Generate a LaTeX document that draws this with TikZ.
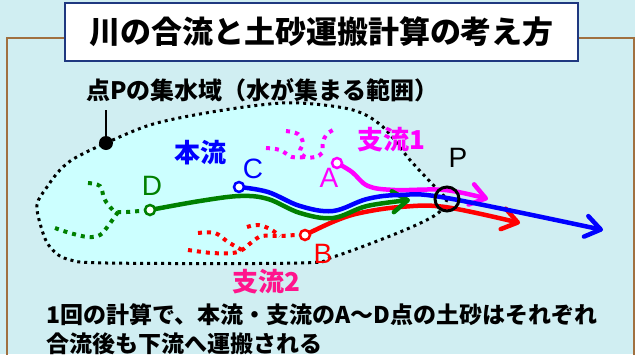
\documentclass[tikz,border=0pt]{standalone}
\usepackage{fontspec}
\setmainfont{Liberation Sans}
\newfontfamily\jp{Noto Sans CJK JP}
\usetikzlibrary{arrows.meta}
\definecolor{bgc}{RGB}{208,238,242}
\definecolor{basin}{RGB}{204,255,255}
\definecolor{framebrown}{RGB}{160,112,64}
\definecolor{titleblue}{RGB}{31,56,128}
\definecolor{deeppink}{RGB}{255,20,140}
\definecolor{riverblue}{RGB}{0,0,255}
\definecolor{rivergreen}{RGB}{0,128,0}
\definecolor{riverred}{RGB}{255,0,0}
\definecolor{rivermag}{RGB}{255,0,255}
\tikzset{
  titlebox/.style={draw=titleblue, line width=2pt, fill=white, minimum width=513pt, minimum height=58pt, inner sep=0pt},
  basinline/.style={draw=black, line width=3pt, dash pattern=on 3pt off 4pt},
  trib/.style={line width=4pt, dash pattern=on 4pt off 5pt},
  flow/.style={line width=4.5pt, line cap=round, -{Straight Barb[length=15pt,width=21pt,round]}},
  startdot/.style={circle, draw, fill=white, line width=2.5pt, minimum size=10pt, inner sep=0pt},
  letter/.style={font=\fontsize{28}{28}\selectfont, inner sep=0pt},
  jplabel/.style={font=\jp\bfseries\fontsize{26}{26}\selectfont, inner sep=0pt},
  note/.style={anchor=base west, inner sep=0pt, font=\jp\bfseries\fontsize{23}{23}\selectfont},
}
\begin{document}
\begin{tikzpicture}[x=1pt, y=-1pt]
\fill[bgc] (0,0) rectangle (635,354);
\useasboundingbox (0,0) rectangle (635,354);
\draw[framebrown, line width=1.3pt] (7,362) -- (7,38) -- (634,38) -- (634,362);
\node[titlebox] (title) at (321.5,32) {\jp\bfseries\fontsize{31}{31}\selectfont 川の合流と土砂運搬計算の考え方};
% catchment
\draw[basinline, fill=basin] plot[smooth, tension=0.55] coordinates {(447,199) (437,214) (400,232) (333,257) (300,263) (107,263) (67,259) (50,247) (42,230) (37,205) (47,187) (60,170) (75,158) (106,143) (150,125) (200,114) (260,105) (300,103) (353,110) (383,127) (410,160) (437,189) (447,199)};
\node[note, font=\jp\bfseries\fontsize{24}{24}\selectfont] (basinlabel) at (86,99) {点Pの集水域（水が集まる範囲）};
\node[circle, fill=black, minimum size=14pt, inner sep=0pt] (pin) at (106,143) {};
\coordinate (pintop) at (106,110);
\draw[line width=2.5pt] (pin.center) -- (pintop);
% start points
\coordinate (pA) at (337,163);
\coordinate (pB) at (305,235);
\coordinate (pC) at (239,187);
\coordinate (pD) at (150,210);
\coordinate (jg) at (118,212);
\coordinate (jr) at (242,250);
\coordinate (jr2) at (280,236);
% dotted tributaries
\draw[trib, rivermag] plot[smooth, tension=0.6] coordinates {(286,131) (298,134) (303,143) (300,151) (305,157) (315,157) (322,153) (323,142) (327,134) (335,129)};
\draw[trib, rivermag] plot[smooth, tension=0.6] coordinates {(266,148) (280,150) (292,157) (305,157)};
\draw[trib, rivergreen] plot[smooth, tension=0.6] coordinates {(88,183) (100,186) (104,198) (110,207) (jg) (140,211) (pD)};
\draw[trib, rivergreen] plot[smooth, tension=0.6] coordinates {(55,228) (70,233) (88,237) (100,235) (108,226) (jg)};
\draw[trib, riverred] plot[smooth, tension=0.6] coordinates {(188,250) (212,253) (232,253) (jr) (252,242) (262,236) (jr2) (296,235) (pB)};
\draw[trib, riverred] plot[smooth, tension=0.6] coordinates {(198,233) (215,233) (228,242) (jr)};
\draw[trib, riverred] plot[smooth, tension=0.6] coordinates {(247,227) (258,225) (270,229) (jr2)};
% flows
\draw[flow, rivermag] plot[smooth, tension=0.6] coordinates {(pA) (352,172) (368,186) (395,190) (445,190) (488,199)};
\draw[flow, riverred] plot[smooth, tension=0.6] coordinates {(pB) (335,221) (360,213) (400,207) (445,207) (520,223)};
\draw[flow, rivergreen] plot[smooth, tension=0.6] coordinates {(pD) (200,201) (240,196) (268,199) (300,213) (333,218) (367,206) (410,200)};
\draw[flow, riverblue] plot[smooth, tension=0.6] coordinates {(pC) (268,192) (300,206) (333,211) (367,199) (400,195) (447,198) (603,230)};
\node[startdot, draw=rivermag] (nA) at (pA) {};
\node[startdot, draw=riverred] (nB) at (pB) {};
\node[startdot, draw=riverblue] (nC) at (pC) {};
\node[startdot, draw=rivergreen] (nD) at (pD) {};
\node[circle, draw=black, line width=3pt, minimum size=24pt, inner sep=0pt] (P) at (447,199) {};
% labels
\node[letter, rivermag] (lA) at (329,178) {A};
\node[letter, riverred] (lB) at (323,254) {B};
\node[letter, riverblue] (lC) at (253,169) {C};
\node[letter, rivergreen] (lD) at (152,186) {D};
\node[letter, black] (lP) at (458,158) {P};
\node[jplabel, riverblue] (main) at (200,153) {本流};
\node[jplabel, rivermag] (t1) at (391,140) {支流1};
\node[jplabel, deeppink] (t2) at (266,282) {支流2};
\node[note] (note1) at (46,323) {1回の計算で、本流・支流のA～D点の土砂はそれぞれ};
\node[note] (note2) at (46,352) {合流後も下流へ運搬される};
\end{tikzpicture}
\end{document}
